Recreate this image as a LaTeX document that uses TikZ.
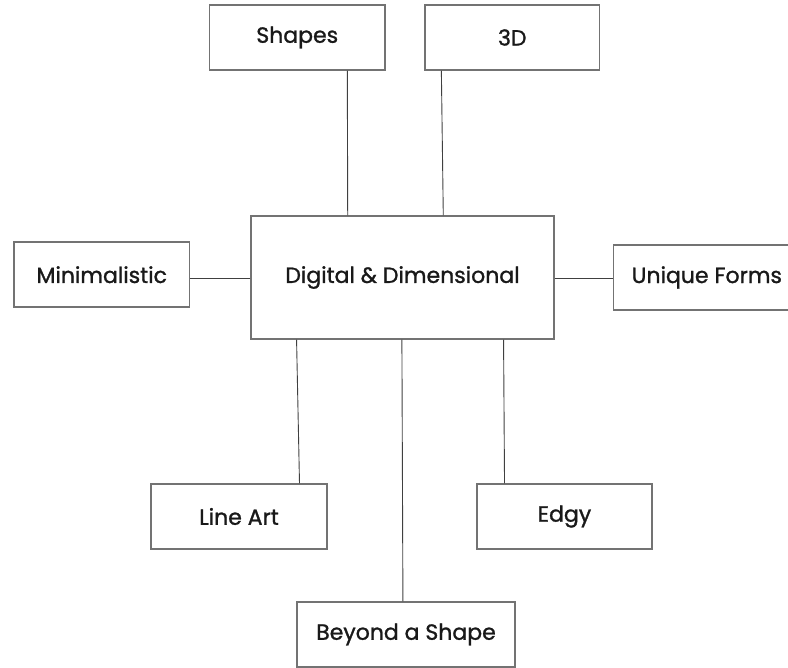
\documentclass[tikz,border=0pt]{standalone}
\usepackage{fontspec}
\newfontfamily\boxfont{Poppins}[FakeBold=1.2]
\usetikzlibrary{calc}
\begin{document}
\begin{tikzpicture}[x=1pt,y=-1pt,
  box/.style={draw=black!55, line width=1.4pt, rectangle, inner sep=0pt, align=center,
    font=\boxfont\fontsize{22}{26}\selectfont, text=black!90},
  link/.style={draw=black!75, line width=0.9pt}]
\useasboundingbox (0,0) rectangle (788,668);
\node[box, minimum width=175.5pt, minimum height=65pt] (shapes) at (297.25,37.5) {Shapes};
\node[box, minimum width=174.5pt, minimum height=65pt] (td) at (512.25,37.5) {3D};
\node[box, minimum width=303pt, minimum height=123pt] (center) at (402.5,277.5) {\raisebox{5pt}{Digital \& Dimensional}};
\node[box, minimum width=175.5pt, minimum height=65pt] (minimal) at (101.75,274.7) {Minimalistic};
\node[box, minimum width=186.4pt, minimum height=65pt] (unique) at (706.8,277.5) {Unique Forms};
\node[box, minimum width=176pt, minimum height=65pt] (lineart) at (239,516.5) {Line Art};
\node[box, minimum width=175pt, minimum height=65pt] (edgy) at (564.5,516.5) {Edgy};
\node[box, minimum width=218pt, minimum height=65pt] (beyond) at (406,634.5) {Beyond a Shape};
\draw[link] ($(shapes.south west)!0.783!(shapes.south east)$) -- ($(center.north west)!0.320!(center.north east)$);
\draw[link] ($(td.south west)!0.097!(td.south east)$) -- ($(center.north west)!0.634!(center.north east)$);
\draw[link] (center.west |- 0,278) -- (minimal.east |- 0,278);
\draw[link] (center.east |- 0,278) -- (unique.west |- 0,278);
\draw[link] ($(center.south west)!0.152!(center.south east)$) -- ($(lineart.north west)!0.841!(lineart.north east)$);
\draw[link] ($(center.south west)!0.498!(center.south east)$) -- ($(beyond.north west)!0.486!(beyond.north east)$);
\draw[link] ($(center.south west)!0.832!(center.south east)$) -- ($(edgy.north west)!0.16!(edgy.north east)$);
\end{tikzpicture}
\end{document}
